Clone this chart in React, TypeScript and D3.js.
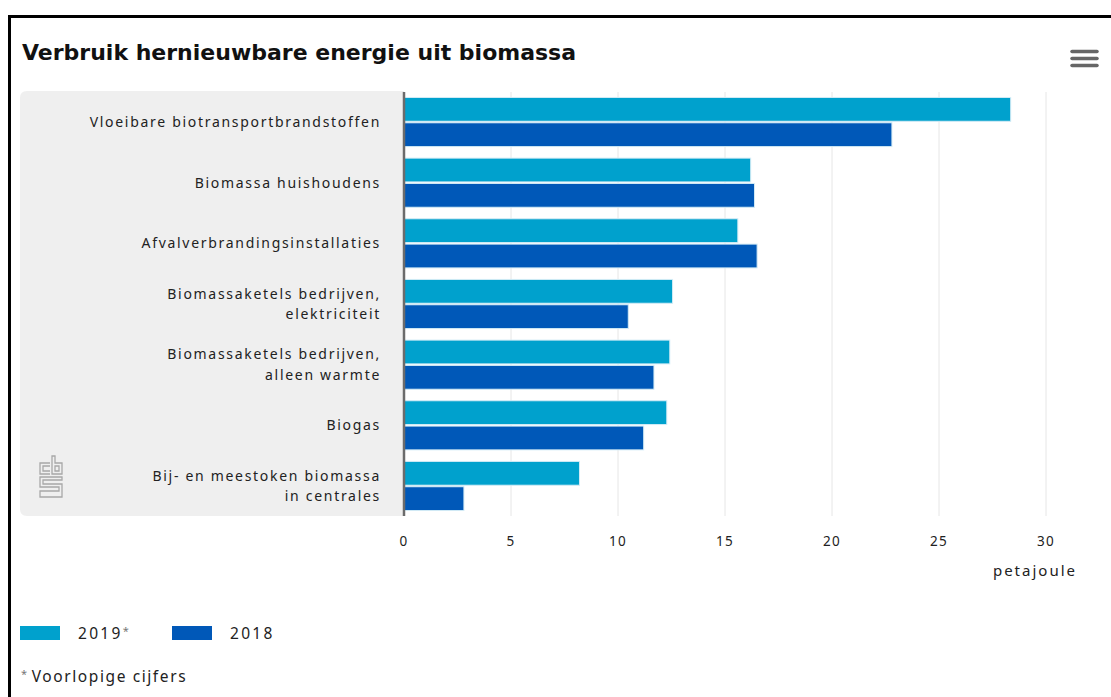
import { useEffect, useRef } from 'react';
import * as d3 from 'd3';

const categories = [
  'Vloeibare biotransportbrandstoffen',
  'Biomassa huishoudens',
  'Afvalverbrandingsinstallaties',
  'Biomassaketels bedrijven,|elektriciteit',
  'Biomassaketels bedrijven,|alleen warmte',
  'Biogas',
  'Bij- en meestoken biomassa|in centrales',
];
const values2019 = [28.35, 16.2, 15.6, 12.55, 12.42, 12.28, 8.2];
const values2018 = [22.8, 16.38, 16.5, 10.48, 11.68, 11.2, 2.8];
const seriesNames = ['2019', '2018'];
const seriesMarks = ['*', ''];
const seriesColors = ['#00a1cd', '#0058b8'];
const xTicks = [0, 5, 10, 15, 20, 25, 30];

const W = 1111;
const H = 697;
const labelFont = '"Noto Sans", sans-serif';

export default function App() {
  const svgRef = useRef<SVGSVGElement>(null);

  useEffect(() => {
    if (!svgRef.current) return;
    const svg = d3.select(svgRef.current);
    svg.selectAll('*').remove();

    const plot = { left: 404, right: 1046, top: 92, bottom: 516 };

    // frame
    svg.append('rect').attr('x', 0).attr('y', 0).attr('width', W).attr('height', H).attr('fill', '#fff');
    svg.append('line').attr('x1', 8).attr('x2', W).attr('y1', 16.5).attr('y2', 16.5)
      .attr('stroke', '#000').attr('stroke-width', 3);
    svg.append('line').attr('x1', 9.5).attr('x2', 9.5).attr('y1', 15).attr('y2', H)
      .attr('stroke', '#000').attr('stroke-width', 3);

    // title
    svg.append('text').attr('x', 22).attr('y', 60)
      .attr('font-family', '"DejaVu Sans", sans-serif').attr('font-weight', 'bold')
      .attr('font-size', 22).attr('fill', '#111')
      .text('Verbruik hernieuwbare energie uit biomassa');

    // hamburger
    [0, 1, 2].forEach(i => {
      svg.append('line').attr('x1', 1072).attr('x2', 1097)
        .attr('y1', 51.5 + i * 7).attr('y2', 51.5 + i * 7)
        .attr('stroke', '#666').attr('stroke-width', 3.5).attr('stroke-linecap', 'round');
    });

    // gray label background
    const bgH = plot.bottom - plot.top + 1, r = 7;
    svg.append('path')
      .attr('d', `M${plot.left},${plot.top - 1} H${20 + r} Q20,${plot.top - 1} 20,${plot.top - 1 + r} V${plot.top - 1 + bgH - r} Q20,${plot.top - 1 + bgH} ${20 + r},${plot.top - 1 + bgH} H${plot.left} Z`)
      .attr('fill', '#efefef');

    const x = d3.scaleLinear().domain([0, 30]).range([plot.left, plot.right]);
    const y = d3.scaleBand<number>().domain(d3.range(categories.length))
      .range([plot.top, plot.bottom]).paddingInner(0.19).paddingOuter(0.09);
    const ys = d3.scaleBand<number>().domain([0, 1]).range([0, y.bandwidth()]).paddingInner(0.06);

    // gridlines
    svg.append('g').selectAll('line').data(xTicks.filter(t => t > 0)).join('line')
      .attr('x1', d => x(d)).attr('x2', d => x(d))
      .attr('y1', plot.top).attr('y2', plot.bottom)
      .attr('stroke', '#e6e6e6').attr('stroke-width', 1);

    // bars
    const series = [values2019, values2018];
    series.forEach((vals, si) => {
      svg.append('g').selectAll('rect').data(vals).join('rect')
        .attr('x', x(0))
        .attr('y', (_, i) => (y(i) as number) + (ys(si) as number))
        .attr('width', d => x(d) - x(0))
        .attr('height', ys.bandwidth())
        .attr('fill', seriesColors[si])
        .attr('stroke', '#d4ecf6').attr('stroke-width', 1);
    });

    // axis line at 0
    svg.append('line').attr('x1', x(0)).attr('x2', x(0))
      .attr('y1', plot.top).attr('y2', plot.bottom)
      .attr('stroke', '#6b6b6b').attr('stroke-width', 2.5);

    // category labels
    categories.forEach((c, i) => {
      const lines = c.split('|');
      const cy = (y(i) as number) + y.bandwidth() / 2;
      const t = svg.append('text').attr('text-anchor', 'end')
        .attr('font-family', labelFont).attr('font-size', 14)
        .attr('letter-spacing', 1.7).attr('fill', '#222');
      lines.forEach((l, li) => {
        t.append('tspan').attr('x', 381)
          .attr('y', cy + 5 + (li - (lines.length - 1) / 2) * 20.5)
          .text(l);
      });
    });

    // x tick labels
    svg.append('g').selectAll('text').data(xTicks).join('text')
      .attr('x', d => x(d)).attr('y', 546)
      .attr('text-anchor', 'middle')
      .attr('font-family', labelFont).attr('font-size', 13.5).attr('letter-spacing', 1.2)
      .attr('fill', '#222')
      .text(d => d);

    svg.append('text').attr('x', 1077).attr('y', 576).attr('text-anchor', 'end')
      .attr('font-family', labelFont).attr('font-size', 15).attr('letter-spacing', 2)
      .attr('fill', '#222').text('petajoule');

    // cbs logo
    const logo = svg.append('g').attr('fill', 'none').attr('stroke', '#a8a8a8').attr('stroke-width', 1.3);
    logo.append('path').attr('d', 'M50,463 H40 V474 H50 M50,466 H43 V471 H50');
    logo.append('path').attr('d', 'M52,456 H55 V463 H62 V474 H52 Z M55,466 H59 V471 H55 Z');
    logo.append('path').attr('d', 'M62,477 H40 V487 H59 V491 H40 V497 H62 V484 H43 V480 H62 Z');

    // legend
    const legendX = [20, 172];
    seriesNames.forEach((s, i) => {
      svg.append('rect').attr('x', legendX[i]).attr('y', 626).attr('width', 40).attr('height', 14)
        .attr('fill', seriesColors[i]);
      const t = svg.append('text').attr('x', legendX[i] + 58).attr('y', 639)
        .attr('font-family', labelFont).attr('font-size', 15.5).attr('letter-spacing', 2.3)
        .attr('fill', '#222').text(s);
      if (seriesMarks[i]) {
        t.append('tspan').attr('font-size', 11).attr('dy', -4).attr('fill', '#777').text(seriesMarks[i]);
      }
    });

    const foot = svg.append('text').attr('x', 21).attr('y', 682)
      .attr('font-family', labelFont).attr('font-size', 15.5).attr('letter-spacing', 1.6)
      .attr('fill', '#222');
    foot.append('tspan').attr('font-size', 11).attr('dy', -4).attr('fill', '#777').text('*');
    foot.append('tspan').attr('dy', 4).attr('dx', 3).text('Voorlopige cijfers');
  }, []);

  return (
    <div style={{ position: 'absolute', left: 0, top: 0 }}>
      <svg ref={svgRef} width={W} height={H} style={{ display: 'block' }} />
    </div>
  );
}
